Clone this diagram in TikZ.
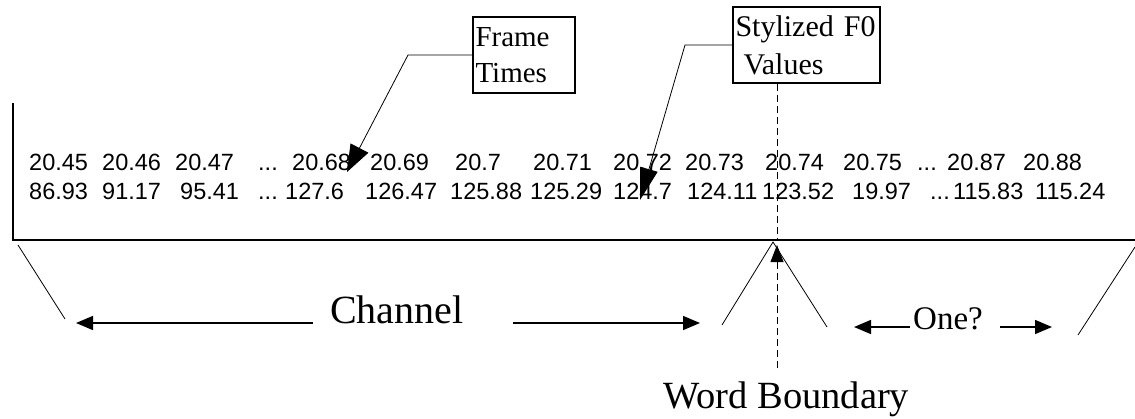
\documentclass[tikz,border=0pt]{standalone}
\usepackage{fontspec}
\setmainfont{Liberation Serif}
\newfontfamily\numfont{Liberation Sans}
\usetikzlibrary{arrows.meta}
\newcommand{\tdots}{...}
\begin{document}
\begin{tikzpicture}[x=1pt,y=-1pt,
  num/.style={anchor=base west,inner sep=0pt,font=\numfont\fontsize{23.5}{26}\selectfont},
  lbl/.style={anchor=base west,inner sep=0pt},
  boxnode/.style={draw,line width=1.2pt,inner sep=2pt,align=left},
  frameline/.style={line width=1.5pt},
  thin/.style={line width=0.8pt},
  harrow/.style={line width=1.5pt,-{Triangle[length=17pt,width=14pt]}},
  bigarrow/.style={line width=0.8pt,-{Triangle[length=27pt,width=20pt]}}
]
\useasboundingbox (0,0) rectangle (1135,418);

% frame
\coordinate (ftop) at (13,103);
\coordinate (fcorner) at (13,240);
\coordinate (fright) at (1135,240);
\draw[frameline] (ftop) -- (fcorner) -- (fright);

% numbers
\foreach \x/\t [count=\i] in {29/20.45,102/20.46,175/20.47,258/\tdots,292/20.68,370/20.69,455/20.7,533/20.71,613/20.72,685/20.73,765/20.74,843/20.75,917/\tdots,947/20.87,1023/20.88}
  \node[num] (r\i) at (\x,170) {\t};
\foreach \x/\t [count=\i] in {29/86.93,102/91.17,180/95.41,258/\tdots,285/127.6,365/126.47,450/125.88,530/125.29,613/124.7,687/124.11,762/123.52,852/19.97,930/\tdots,953/115.83,1035/115.24}
  \node[num] (s\i) at (\x,199) {\t};

% boxes
\node[boxnode,minimum width=102pt,minimum height=76pt,text width=97pt,
      font=\fontsize{29}{36}\selectfont] (ft) at (524,55) {Frame\\Times};
\node[boxnode,minimum width=147pt,minimum height=76pt,text width=142pt,
      font=\fontsize{30}{38}\selectfont] (sf) at (806.5,45) {Stylized F0\\\hspace*{8pt}Values};

% box connectors
\coordinate (ftbend) at (408,55);
\coordinate (fttip) at (347,172);
\draw[bigarrow] (ft.west) -- (ftbend) -- (fttip);
\coordinate (sfbend) at (685,45);
\coordinate (sftip) at (640,200);
\draw[line width=0.8pt,-{Triangle[length=32pt,width=18pt]}] (sf.west) -- (sfbend) -- (sftip);

% word boundary dashed line
\coordinate (wbtop) at (777,83);
\coordinate (wbmid) at (777,240);
\draw[thin,dash pattern=on 7pt off 4pt] (sf.south -| wbtop) -- (wbmid);

% bottom labels
\node[lbl,font=\fontsize{40}{44}\selectfont] (ch) at (330,323) {Channel};
\node[lbl,font=\fontsize{33}{36}\selectfont] (one) at (913,329) {One?};
\node[lbl,font=\fontsize{38.5}{42}\selectfont] (wb) at (663,408) {Word Boundary};

% slants
\coordinate (sl1a) at (18,245);
\coordinate (sl1b) at (65,319);
\draw[thin] (sl1a) -- (sl1b);
\coordinate (lama) at (722,325);
\coordinate (lamb) at (773,242);
\coordinate (lamc) at (827,327);
\draw[thin] (lama) -- (lamb) -- (lamc);
\coordinate (sl2a) at (1078,335);
\coordinate (sl2b) at (1135,247);
\draw[thin] (sl2a) -- (sl2b);

% channel arrows
\coordinate (chl0) at (313,323);
\coordinate (chl1) at (76,323);
\draw[harrow] (chl0) -- (chl1);
\coordinate (chr0) at (513,323);
\coordinate (chr1) at (700,323);
\draw[harrow] (chr0) -- (chr1);

% one? arrows
\coordinate (onl0) at (910,327);
\coordinate (onl1) at (854,327);
\draw[harrow] (onl0) -- (onl1);
\coordinate (onr0) at (1000,327);
\coordinate (onr1) at (1052,327);
\draw[harrow] (onr0) -- (onr1);

% word boundary up arrow
\coordinate (wbb) at (777,368);
\coordinate (wbt) at (777,245);
\draw[thin,dash pattern=on 7pt off 4pt,-{Triangle[length=17pt,width=13pt]}] (wbb) -- (wbt);
\end{tikzpicture}
\end{document}
